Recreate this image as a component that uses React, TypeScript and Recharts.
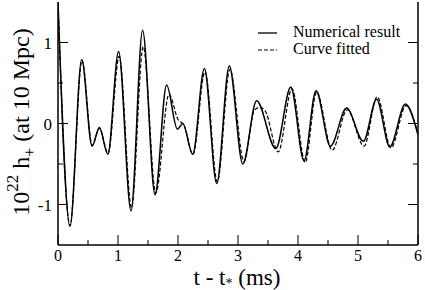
import { LineChart, Line, XAxis, YAxis, Legend } from "recharts";

// waveform: time (ms) and strain (10^22 h+)
const numericalT = [0, 0.2, 0.395, 0.567, 0.69, 0.83, 1.01, 1.217, 1.41, 1.617, 1.81, 1.99, 2.08, 2.245, 2.44, 2.645, 2.855, 3.08, 3.31, 3.63, 3.88, 4.1, 4.3, 4.54, 4.81, 5.09, 5.31, 5.53, 5.79, 6.0];
const numericalH = [1.5, -1.27, 0.79, -0.28, -0.05, -0.38, 0.89, -1.08, 1.15, -0.88, 0.475, -0.07, 0.0, -0.38, 0.68, -0.74, 0.71, -0.5, 0.28, -0.31, 0.45, -0.46, 0.405, -0.28, 0.19, -0.22, 0.3, -0.29, 0.24, -0.14];

const fittedT = [0, 0.2, 0.4, 0.57, 0.69, 0.835, 1.02, 1.225, 1.42, 1.63, 1.85, 2.0, 2.1, 2.25, 2.45, 2.655, 2.865, 3.1, 3.27, 3.36, 3.45, 3.67, 3.9, 4.12, 4.31, 4.57, 4.82, 5.1, 5.32, 5.55, 5.8, 6.0];
const fittedH = [1.5, -1.26, 0.78, -0.27, -0.06, -0.37, 0.83, -1.04, 0.95, -0.86, 0.36, 0.05, -0.02, -0.38, 0.64, -0.72, 0.67, -0.47, 0.16, 0.2, 0.16, -0.35, 0.43, -0.48, 0.39, -0.33, 0.17, -0.28, 0.33, -0.3, 0.22, -0.13];

const xTicks = [0, 0.5, 1, 1.5, 2, 2.5, 3, 3.5, 4, 4.5, 5, 5.5, 6];
const yTicks = [-1, -0.5, 0, 0.5, 1];

const numerical = numericalT.map((t, i) => ({ t, v: numericalH[i] }));
const fitted = fittedT.map((t, i) => ({ t, v: fittedH[i] }));

const FONT = "Liberation Serif";

const isMajor = (v: number) => Number.isInteger(v);

const BottomTick = (props: any) => {
  const { x, y, payload } = props;
  const len = isMajor(payload.value) ? 10 : 5;
  return (
    <g>
      <line x1={x} y1={y} x2={x} y2={y - len} stroke="#000" strokeWidth={1} />
      {isMajor(payload.value) && (
        <text x={x} y={y + 16} textAnchor="middle" fontFamily={FONT} fontSize={16} fill="#000">
          {payload.value}
        </text>
      )}
    </g>
  );
};

const TopTick = (props: any) => {
  const { x, y, payload } = props;
  const len = isMajor(payload.value) ? 10 : 5;
  return <line x1={x} y1={y} x2={x} y2={y + len} stroke="#000" strokeWidth={1} />;
};

const LeftTick = (props: any) => {
  const { x, y, payload } = props;
  const len = isMajor(payload.value) ? 10 : 5;
  return (
    <g>
      <line x1={x} y1={y} x2={x + len} y2={y} stroke="#000" strokeWidth={1} />
      {isMajor(payload.value) && (
        <text x={x - 6} y={y + 6} textAnchor="end" fontFamily={FONT} fontSize={17} fill="#000">
          {payload.value < 0 ? "-" + Math.abs(payload.value) : payload.value}
        </text>
      )}
    </g>
  );
};

const RightTick = (props: any) => {
  const { x, y, payload } = props;
  const len = isMajor(payload.value) ? 10 : 5;
  return <line x1={x} y1={y} x2={x - len} y2={y} stroke="#000" strokeWidth={1} />;
};

const XTitle = () => (
  <text x={237} y={285} textAnchor="middle" fontFamily={FONT} fontSize={23} fill="#000">
    t - t
    <tspan fontSize={14} dy={3}>*</tspan>
    <tspan dy={-3}> (ms)</tspan>
  </text>
);

const YTitle = () => (
  <text
    x={29}
    y={122}
    textAnchor="middle"
    transform="rotate(-90, 29, 122)"
    fontFamily={FONT}
    fontSize={24}
    fill="#000"
  >
    10
    <tspan fontSize={17} dy={-11}>22</tspan>
    <tspan dy={11}> h</tspan>
    <tspan fontSize={16} dy={6}>+</tspan>
    <tspan dy={-6}> (at 10 Mpc)</tspan>
  </text>
);

const LegendBox = () => (
  <svg width={170} height={40} style={{ display: "block" }}>
    <line x1={3} y1={11} x2={22} y2={11} stroke="#000" strokeWidth={1.3} />
    <text x={38} y={15} fontFamily={FONT} fontSize={16} fill="#000">Numerical result</text>
    <line x1={3} y1={28} x2={22} y2={28} stroke="#000" strokeWidth={1.2} strokeDasharray="4 2" />
    <text x={38} y={32} fontFamily={FONT} fontSize={16} fill="#000">Curve fitted</text>
  </svg>
);

const App = () => {
  return (
    <div style={{ position: "absolute", left: 0, top: 0, width: 425, height: 290, background: "#fff" }}>
      <LineChart width={425} height={290} margin={{ top: 2, right: 0, bottom: 0, left: 0 }}>
        <XAxis
          dataKey="t"
          type="number"
          domain={[0, 6]}
          ticks={xTicks}
          interval={0}
          allowDataOverflow
          height={45}
          tickSize={0}
          tickMargin={0}
          tickLine={false}
          tick={<BottomTick />}
          axisLine={{ stroke: "#000", strokeWidth: 1.5 }}
          label={<XTitle />}
        />
        <XAxis
          xAxisId="top"
          orientation="top"
          type="number"
          domain={[0, 6]}
          ticks={xTicks}
          interval={0}
          allowDataOverflow
          height={0}
          tickSize={0}
          tickMargin={0}
          tickLine={false}
          tick={<TopTick />}
          axisLine={{ stroke: "#000", strokeWidth: 1.5 }}
        />
        <YAxis
          type="number"
          domain={[-1.5, 1.5]}
          ticks={yTicks}
          interval={0}
          allowDataOverflow
          width={58}
          tickSize={0}
          tickMargin={0}
          tickLine={false}
          tick={<LeftTick />}
          axisLine={{ stroke: "#000", strokeWidth: 1.5 }}
          label={<YTitle />}
        />
        <YAxis
          yAxisId="right"
          orientation="right"
          type="number"
          domain={[-1.5, 1.5]}
          ticks={yTicks}
          interval={0}
          allowDataOverflow
          width={7}
          tickSize={0}
          tickMargin={0}
          tickLine={false}
          tick={<RightTick />}
          axisLine={{ stroke: "#000", strokeWidth: 1.5 }}
        />
        <Legend
          layout="vertical"
          align="center"
          verticalAlign="middle"
          wrapperStyle={{ top: 22, left: 255, width: 170 }}
          content={<LegendBox />}
        />
        <Line
          data={numerical}
          dataKey="v"
          name="Numerical result"
          type="monotone"
          stroke="#000"
          strokeWidth={1.5}
          dot={false}
          isAnimationActive={false}
        />
        <Line
          data={fitted}
          dataKey="v"
          name="Curve fitted"
          type="monotone"
          stroke="#000"
          strokeWidth={1.2}
          strokeDasharray="4 2"
          dot={false}
          isAnimationActive={false}
        />
      </LineChart>
    </div>
  );
};

export default App;
